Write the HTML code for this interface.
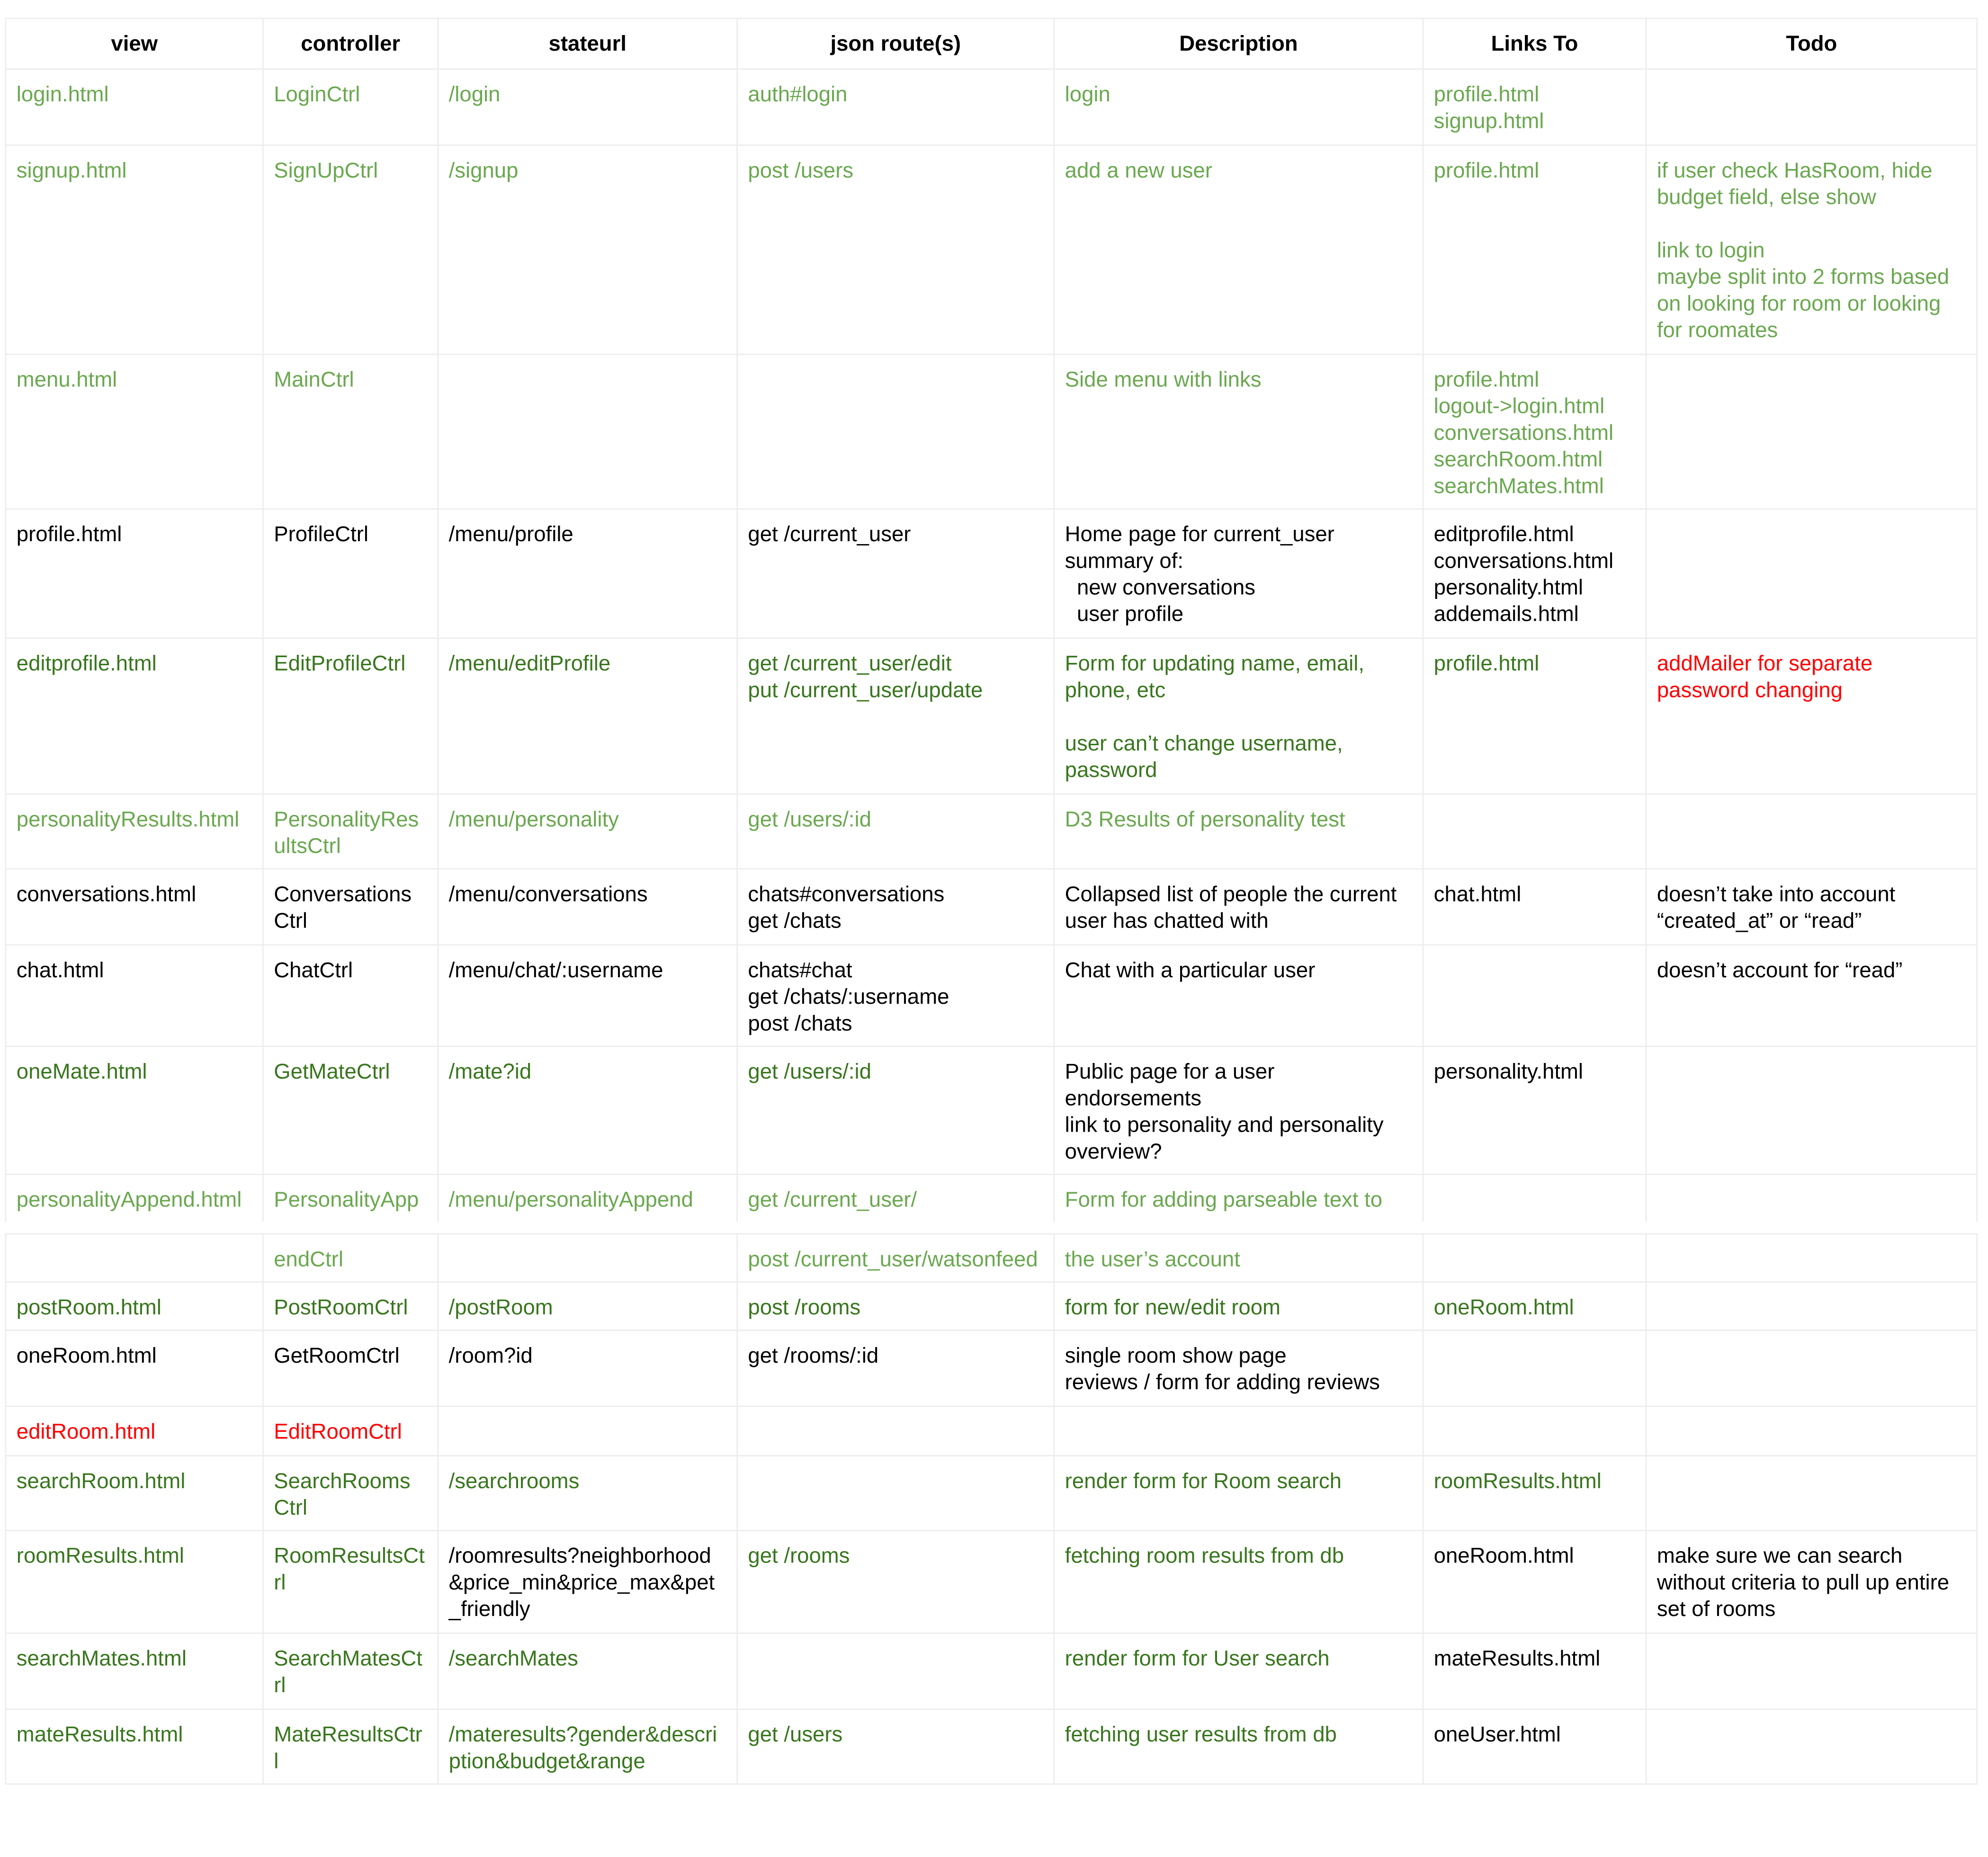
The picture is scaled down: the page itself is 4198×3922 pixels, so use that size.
<!DOCTYPE html>
<html><head><meta charset="utf-8">
<style>
html,body{margin:0;padding:0;background:#fff;width:4198px;height:3922px;overflow:hidden;}
#w{position:absolute;left:0;top:0;width:1570px;height:1465px;transform:scale(2.677);transform-origin:0 0;}
table{position:absolute;left:4px;border-collapse:collapse;table-layout:fixed;width:1555px;font-family:"Liberation Sans",Arial,sans-serif;font-size:17px;line-height:21px;}
td,th{border:1.2px solid #ececec;padding:9px 8px 0 8px;vertical-align:top;white-space:pre-wrap;overflow:hidden;}
th{font-weight:bold;text-align:center;vertical-align:middle;padding:0;color:#000;}
.l{color:#6aa84f}.d{color:#38761d}.r{color:#ff0000}.k{color:#000}
#t1{top:14px}#t2{top:973px}
tr.cut td{border-bottom:none}
</style></head><body><div id="w">
<table id="t1">
<colgroup><col style="width:203px"><col style="width:138px"><col style="width:236px"><col style="width:250px"><col style="width:291px"><col style="width:176px"><col style="width:261px"></colgroup>
<tr style="height:40px"><th>view</th><th>controller</th><th>stateurl</th><th>json route(s)</th><th>Description</th><th>Links To</th><th>Todo</th></tr>
<tr style="height:60px" class="l"><td>login.html</td><td>LoginCtrl</td><td>/login</td><td>auth#login</td><td>login</td><td>profile.html
signup.html</td><td></td></tr>
<tr style="height:165px" class="l"><td>signup.html</td><td>SignUpCtrl</td><td>/signup</td><td>post /users</td><td>add a new user</td><td>profile.html</td><td>if user check HasRoom, hide budget field, else show

link to login
maybe split into 2 forms based on looking for room or looking for roomates</td></tr>
<tr style="height:122px" class="l"><td>menu.html</td><td>MainCtrl</td><td></td><td></td><td>Side menu with links</td><td>profile.html
logout-&gt;login.html
conversations.html
searchRoom.html
searchMates.html</td><td></td></tr>
<tr style="height:102px" class="k"><td>profile.html</td><td>ProfileCtrl</td><td>/menu/profile</td><td>get /current_user</td><td>Home page for current_user
summary of:
  new conversations
  user profile</td><td>editprofile.html
conversations.html
personality.html
addemails.html</td><td></td></tr>
<tr style="height:123px" class="d"><td>editprofile.html</td><td>EditProfileCtrl</td><td>/menu/editProfile</td><td>get /current_user/edit
put /current_user/update</td><td>Form for updating name, email, phone, etc

user can’t change username, password</td><td>profile.html</td><td class="r">addMailer for separate
password changing</td></tr>
<tr style="height:59px" class="l"><td>personalityResults.html</td><td>PersonalityRes
ultsCtrl</td><td>/menu/personality</td><td>get /users/:id</td><td>D3 Results of personality test</td><td></td><td></td></tr>
<tr style="height:60px" class="k"><td>conversations.html</td><td>Conversations
Ctrl</td><td>/menu/conversations</td><td>chats#conversations
get /chats</td><td>Collapsed list of people the current user has chatted with</td><td>chat.html</td><td>doesn’t take into account “created_at” or “read”</td></tr>
<tr style="height:80px" class="k"><td>chat.html</td><td>ChatCtrl</td><td>/menu/chat/:username</td><td>chats#chat
get /chats/:username
post /chats</td><td>Chat with a particular user</td><td></td><td>doesn’t account for “read”</td></tr>
<tr style="height:101px" class="d"><td>oneMate.html</td><td>GetMateCtrl</td><td>/mate?id</td><td>get /users/:id</td><td class="k">Public page for a user
endorsements
link to personality and personality overview?</td><td class="k">personality.html</td><td></td></tr>
<tr style="height:37px" class="l cut"><td>personalityAppend.html</td><td>PersonalityApp</td><td>/menu/personalityAppend</td><td>get /current_user/</td><td>Form for adding parseable text to</td><td></td><td></td></tr>
</table>
<table id="t2">
<colgroup><col style="width:203px"><col style="width:138px"><col style="width:236px"><col style="width:250px"><col style="width:291px"><col style="width:176px"><col style="width:261px"></colgroup>
<tr style="height:38px" class="l"><td></td><td>endCtrl</td><td></td><td>post /current_user/watsonfeed</td><td>the user’s account</td><td></td><td></td></tr>
<tr style="height:38px" class="d"><td>postRoom.html</td><td>PostRoomCtrl</td><td>/postRoom</td><td>post /rooms</td><td>form for new/edit room</td><td>oneRoom.html</td><td></td></tr>
<tr style="height:60px" class="k"><td>oneRoom.html</td><td>GetRoomCtrl</td><td>/room?id</td><td>get /rooms/:id</td><td>single room show page
reviews / form for adding reviews</td><td></td><td></td></tr>
<tr style="height:39px" class="r"><td>editRoom.html</td><td>EditRoomCtrl</td><td></td><td></td><td></td><td></td><td></td></tr>
<tr style="height:59px" class="d"><td>searchRoom.html</td><td>SearchRooms
Ctrl</td><td>/searchrooms</td><td></td><td>render form for Room search</td><td>roomResults.html</td><td></td></tr>
<tr style="height:81px" class="d"><td>roomResults.html</td><td>RoomResultsCt
rl</td><td class="k">/roomresults?neighborhood
&amp;price_min&amp;price_max&amp;pet
_friendly</td><td>get /rooms</td><td>fetching room results from db</td><td class="k">oneRoom.html</td><td class="k">make sure we can search
without criteria to pull up entire
set of rooms</td></tr>
<tr style="height:60px" class="d"><td>searchMates.html</td><td>SearchMatesCt
rl</td><td>/searchMates</td><td></td><td>render form for User search</td><td class="k">mateResults.html</td><td></td></tr>
<tr style="height:59px" class="d"><td>mateResults.html</td><td>MateResultsCtr
l</td><td>/materesults?gender&amp;descri
ption&amp;budget&amp;range</td><td>get /users</td><td>fetching user results from db</td><td class="k">oneUser.html</td><td></td></tr>
</table>
</div></body></html>
